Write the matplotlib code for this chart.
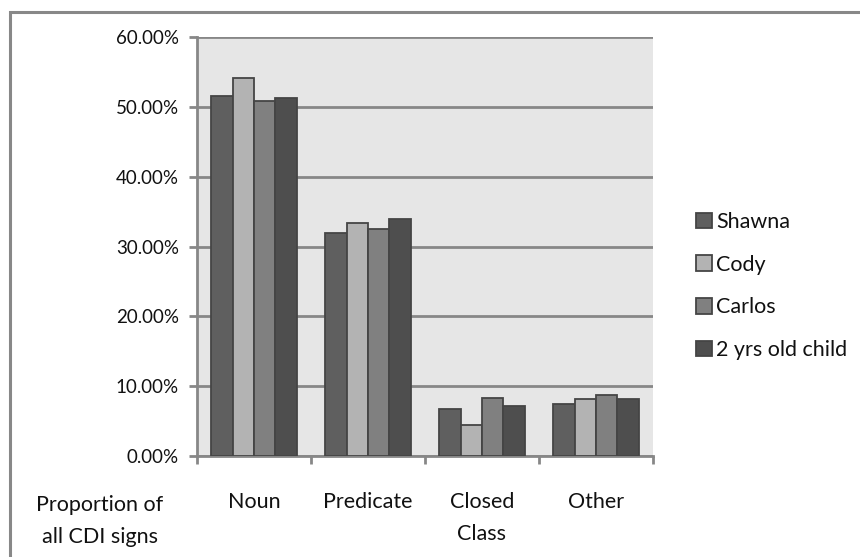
import numpy as np
import matplotlib.pyplot as plt
from matplotlib.patches import Rectangle

plt.rcParams['font.family'] = ['Lato', 'DejaVu Sans']

categories = ['Noun', 'Predicate', 'Closed\nClass', 'Other']
series = ['Shawna', 'Cody', 'Carlos', '2 yrs old child']
shawna = [51.6, 32.0, 6.8, 7.45]
cody = [54.2, 33.3, 4.5, 8.1]
carlos = [50.9, 32.5, 8.3, 8.7]
child = [51.2, 34.0, 7.1, 8.15]
values = [shawna, cody, carlos, child]
colors = ['#5f5f5f', '#b3b3b3', '#808080', '#4e4e4e']
yticks = [0, 10, 20, 30, 40, 50, 60]

W, H = 860, 557
fig = plt.figure(figsize=(W / 100, H / 100), dpi=100)

# grey frame round the whole chart
fig.patches.append(Rectangle((10 / W, -0.1), 1.2, 1 - 12 / H + 0.1, transform=fig.transFigure,
                             fill=False, edgecolor='#888888', linewidth=2.2))

ax = fig.add_axes([197 / W, 1 - 456 / H, (653 - 197) / W, (456 - 37) / H])
ax.set_facecolor('#e6e6e6')

x = np.arange(len(categories))
bw = 0.187
for i, (vals, c, name) in enumerate(zip(values, colors, series)):
    ax.bar(x + (i - 1.5) * bw, vals, bw, color=c, edgecolor='#454545',
           linewidth=1.3, label=name, zorder=3)

ax.set_xlim(-0.5, 3.5)
ax.set_ylim(0, 60)
ax.set_yticks(yticks)
ax.set_yticklabels(['%.2f%%' % v for v in yticks], fontsize=13.5, color='#111111')
ax.yaxis.grid(True, color='#878787', linewidth=2, zorder=1)
ax.set_axisbelow(True)

ax.set_xticks(np.arange(-0.5, 4, 1))
ax.set_xticklabels([])
ax.set_xticks(x, minor=True)
ax.set_xticklabels(categories, minor=True, fontsize=15.5, va='top', linespacing=1.75,
                   color='#111111')
ax.tick_params(axis='x', which='minor', length=0, pad=26)
ax.tick_params(axis='both', which='major', length=6, width=2, color='#878787')
ax.tick_params(axis='y', pad=7)

for s in ['top', 'right']:
    ax.spines[s].set_visible(False)
for s in ['left', 'bottom']:
    ax.spines[s].set_color('#878787')
    ax.spines[s].set_linewidth(2)

fig.text(100 / W, 1 - 521 / H, 'Proportion of\nall CDI signs', ha='center', va='center',
         fontsize=15.5, linespacing=1.75, color='#111111')

ax.legend(loc='center left', bbox_to_anchor=(687 / W, 1 - 286 / H),
          bbox_transform=fig.transFigure, frameon=False, fontsize=15.5,
          handlelength=0.75, handleheight=0.75, handletextpad=0.2, labelspacing=1.05,
          borderaxespad=0, labelcolor='#111111')

fig.savefig('out.png', dpi=100)
